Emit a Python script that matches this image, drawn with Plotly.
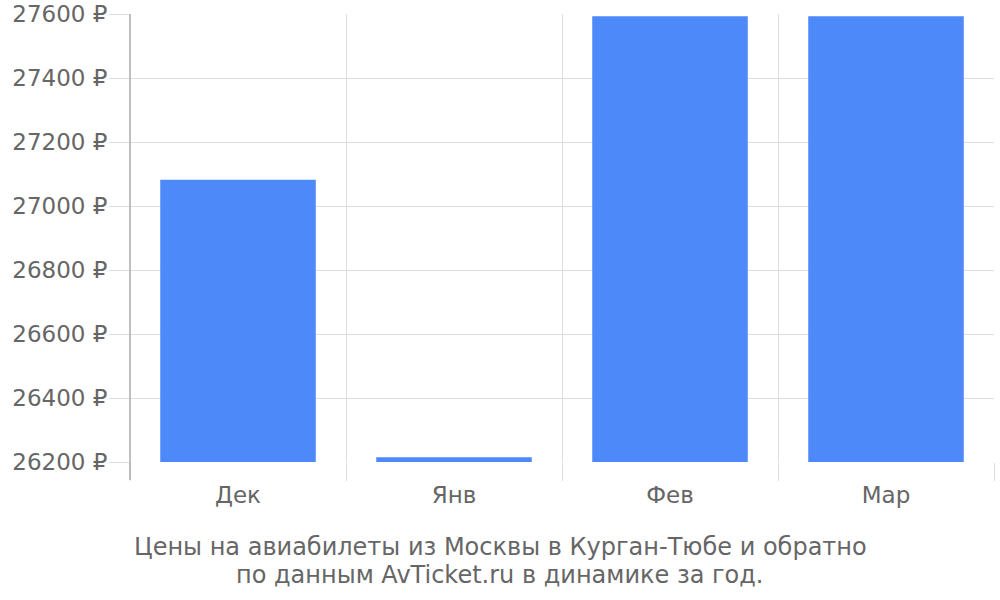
import plotly.graph_objects as go

months = ["Дек", "Янв", "Фев", "Мар"]
prices = [27082, 26215, 27593, 27593]
y_ticks = [26200, 26400, 26600, 26800, 27000, 27200, 27400, 27600]
y_tick_text = [f"{v} ₽" for v in y_ticks]
title_lines = ["Цены на авиабилеты из Москвы в Курган-Тюбе и обратно",
               "по данным AvTicket.ru в динамике за год."]

W, H = 1000, 600
L, R, T, B = 130, 6, 14, 138
pw, ph = W - L - R, H - T - B

fig = go.Figure(go.Bar(x=months, y=prices, marker=dict(color="#4d89f9", line=dict(width=0)),
                       hoverinfo="skip"))

grey = "#666666"
fig.update_layout(
    width=W, height=H,
    margin=dict(l=L, r=R, t=T, b=B),
    plot_bgcolor="white", paper_bgcolor="white",
    bargap=0.28, showlegend=False,
    font=dict(family="DejaVu Sans", size=22, color=grey),
)
fig.update_xaxes(
    tickson="boundaries", showgrid=True, gridcolor="#dddddd", gridwidth=1,
    ticks="outside", ticklen=18, tickcolor="#dddddd", tickwidth=1,
    showline=False, zeroline=False, automargin=False, ticklabelstandoff=17,
    tickfont=dict(family="DejaVu Sans", size=23, color=grey),
)
fig.update_yaxes(
    range=[26200, 27600], tickvals=y_ticks, ticktext=y_tick_text,
    showgrid=True, gridcolor="#dddddd", gridwidth=1,
    ticks="outside", ticklen=20, tickcolor="#dddddd",
    showline=False, zeroline=False, automargin=False, ticklabelstandoff=-3,
    tickfont=dict(family="DejaVu Sans", size=23, color=grey),
)
fig.add_shape(type="line", xref="paper", yref="paper", x0=0, x1=0,
              y0=-18 / ph, y1=1, line=dict(color="#aaaaaa", width=1.5))

cx = (W / 2 - L) / pw
for line, ypx in zip(title_lines, [547, 575]):
    fig.add_annotation(
        text=line, xref="paper", yref="paper",
        x=cx, y=(H - B - ypx) / ph, xanchor="center", yanchor="middle", showarrow=False,
        font=dict(family="DejaVu Sans", size=24, color=grey),
    )
fig.write_html("out.html", config={"displayModeBar": False},
               post_script="document.body.style.margin='0';")
